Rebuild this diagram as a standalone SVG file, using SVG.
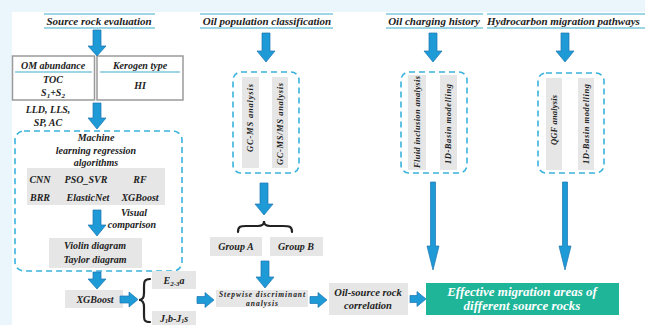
<svg xmlns="http://www.w3.org/2000/svg" width="645" height="325" viewBox="0 0 645 325">
<style>
text{font-family:"Liberation Serif","Times New Roman",serif;font-weight:bold;font-style:italic;fill:#222;text-anchor:middle}
.t{font-size:11px}
.m{font-size:10px}
.s{font-size:7.5px}
.v{font-size:8.5px}
.w{fill:#fff;font-size:13px}
.ul{stroke:#9fd6e6;stroke-width:2}
.arr{fill:#1e9bd7;stroke:#1a74b0;stroke-width:0.7}
.g{fill:#e6e6e6}
.dash{fill:none;stroke:#3ab3dc;stroke-width:1.6;stroke-dasharray:6 4}
.br{fill:none;stroke:#222;stroke-width:2.2;stroke-linecap:round}
</style>
<rect width="645" height="325" fill="#fff"/>
<rect width="645" height="12" fill="#eaf5fc"/>
<rect width="12" height="325" fill="#eaf5fc"/>

<g id="title-source">
<line class="ul" x1="44" y1="14" x2="155" y2="14"/>
<line class="ul" x1="44" y1="28" x2="155" y2="28"/>
<text class="t" x="99" y="25">Source rock evaluation</text>
</g>
<g id="title-oil-pop">
<line class="ul" x1="200" y1="14" x2="333" y2="14"/>
<line class="ul" x1="200" y1="28" x2="333" y2="28"/>
<text class="t" x="267" y="25">Oil population classification</text>
</g>
<g id="title-charging">
<line class="ul" x1="386" y1="14" x2="483" y2="14"/>
<line class="ul" x1="386" y1="28" x2="483" y2="28"/>
<text class="t" x="434" y="25">Oil charging history</text>
</g>
<g id="title-migration">
<line class="ul" x1="487" y1="14" x2="645" y2="14"/>
<line class="ul" x1="487" y1="28" x2="645" y2="28"/>
<text class="t" x="487" y="25" style="text-anchor:start">Hydrocarbon migration pathways</text>
</g>

<g id="om-abundance">
<rect x="12.5" y="56" width="82" height="44" fill="#fff" stroke="#9a9a9a" stroke-width="1.5"/>
<line class="ul" x1="15" y1="72" x2="92" y2="72" stroke-width="1.5"/>
<text class="m" x="53" y="69">OM abundance</text>
<text class="m" x="53" y="83">TOC</text>
<text class="m" x="53" y="96">S<tspan dy="2" font-size="7">1</tspan><tspan dy="-2">+S</tspan><tspan dy="2" font-size="7">2</tspan></text>
</g>
<g id="kerogen-type">
<rect x="97" y="56" width="86" height="44" fill="#fff" stroke="#9a9a9a" stroke-width="1.5"/>
<line class="ul" x1="100" y1="72" x2="180" y2="72" stroke-width="1.5"/>
<text class="m" x="140" y="69">Kerogen type</text>
<text class="m" x="140" y="89">HI</text>
</g>

<g id="logs">
<text class="m" x="48" y="113">LLD, LLS,</text>
<text class="m" x="48" y="126">SP, AC</text>
</g>

<g id="ml-box">
<rect class="dash" x="15" y="131" width="167" height="140" rx="9"/>
<text class="m" x="96" y="141">Machine</text>
<text class="m" x="96" y="154">learning regression</text>
<text class="m" x="96" y="166">algorithms</text>
</g>
<g id="algorithms">
<rect class="g" x="27" y="168" width="138" height="37"/>
<text class="m" x="40" y="183">CNN</text>
<text class="m" x="86" y="183">PSO_SVR</text>
<text class="m" x="140" y="183">RF</text>
<text class="m" x="40" y="201">BRR</text>
<text class="m" x="88" y="201">ElasticNet</text>
<text class="m" x="140" y="201">XGBoost</text>
</g>
<g id="visual">
<text class="m" x="134" y="216">Visual</text>
<text class="m" x="132" y="228">comparison</text>
</g>
<g id="violin-taylor">
<rect class="g" x="49" y="238" width="93" height="30"/>
<text class="m" x="95" y="249">Violin diagram</text>
<text class="m" x="95" y="263">Taylor diagram</text>
</g>
<g id="xgboost">
<rect class="g" x="65" y="290" width="58" height="18"/>
<text class="m" x="95" y="303">XGBoost</text>
</g>
<g id="e23a">
<rect class="g" x="152" y="271" width="44" height="18"/>
<text class="m" x="174" y="284">E<tspan dy="2" font-size="7">2-3</tspan><tspan dy="-2">a</tspan></text>
</g>
<g id="j1b-j1s">
<rect class="g" x="152" y="311" width="44" height="16"/>
<text class="m" x="174" y="322">J<tspan dy="1" font-size="6">1</tspan><tspan dy="-1">b-J</tspan><tspan dy="1" font-size="6">1</tspan><tspan dy="-1">s</tspan></text>
</g>

<g id="gcms-box">
<rect class="dash" x="233" y="72" width="66" height="101" rx="8"/>
<rect class="g" x="242" y="77" width="17" height="91"/>
<rect class="g" x="272" y="77" width="16" height="91"/>
<text class="v" transform="translate(253,118) rotate(-90)" textLength="68">GC-MS analysis</text>
<text class="v" transform="translate(283,124) rotate(-90)" textLength="82">GC-MS/MS analysis</text>
</g>
<g id="group-a">
<rect class="g" x="210" y="237" width="52" height="19"/>
<text class="m" x="236" y="250">Group A</text>
</g>
<g id="group-b">
<rect class="g" x="270" y="237" width="53" height="19"/>
<text class="m" x="296" y="250">Group B</text>
</g>
<g id="stepwise">
<rect class="g" x="216" y="290" width="92" height="17"/>
<text class="s" x="262" y="297" textLength="86">Stepwise discriminant</text>
<text class="s" x="262" y="305.5" textLength="32">analysis</text>
</g>
<g id="oil-source">
<rect class="g" x="329" y="283" width="79" height="32"/>
<text class="m" x="368" y="296" style="font-size:10.5px">Oil-source rock</text>
<text class="m" x="368" y="309" style="font-size:10.5px">correlation</text>
</g>

<g id="charging-box">
<rect class="dash" x="401" y="72" width="66" height="101" rx="8"/>
<rect class="g" x="408" y="75" width="18" height="95"/>
<rect class="g" x="440" y="75" width="17" height="95"/>
<text class="v" transform="translate(420,122) rotate(-90)" textLength="92">Fluid inclusion analysis</text>
<text class="v" transform="translate(451,124) rotate(-90)" textLength="80">1D-Basin modelling</text>
</g>
<g id="migration-box">
<rect class="dash" x="538" y="73" width="66" height="100" rx="8"/>
<rect class="g" x="546" y="78" width="16" height="92"/>
<rect class="g" x="578" y="78" width="16" height="92"/>
<text class="v" transform="translate(557,120) rotate(-90)" textLength="50">QGF analysis</text>
<text class="v" transform="translate(589,124) rotate(-90)" textLength="80">1D-Basin modelling</text>
</g>

<g id="effective">
<rect x="426" y="283" width="193" height="32" fill="#1fb598"/>
<text class="w" x="522" y="296">Effective migration areas of</text>
<text class="w" x="522" y="310">different source rocks</text>
</g>

<g id="connectors">
<path class="arr" d="M93 30H101V46H106L97 56L88 46H93Z"/>
<path class="arr" d="M93 103H101V118H106L97 129L88 118H93Z"/>
<path class="arr" d="M93 210H101V225H106L97 236L88 225H93Z"/>
<path class="arr" d="M93 272H101V279H106L97 289L88 279H93Z"/>
<path class="arr" d="M262 33H270V51H275L266 62L257 51H262Z"/>
<path class="arr" d="M260 183H268V204H273L264 215L255 204H260Z"/>
<path class="arr" d="M261 261H269V277H274L265 288L256 277H261Z"/>
<path class="arr" d="M429 33H437V51H442L433 62L424 51H429Z"/>
<path class="arr" d="M561 33H569V51H574L565 62L556 51H561Z"/>
<path class="arr" d="M430.5 182H435.5V246H439L433 270L427 246H430.5Z"/>
<path class="arr" d="M562.5 182H567.5V246H571L565 270L559 246H562.5Z"/>
<path class="arr" d="M120 296H129V292L138 299.5L129 307V303H120Z"/>
<path class="arr" d="M197 296.5H205V292.5L214 300L205 307.5V303.5H197Z"/>
<path class="arr" d="M310 296.5H318V292.5L327 300L318 307.5V303.5H310Z"/>
<path class="arr" d="M410 295.5H417V291.5L426 299L417 306.5V302.5H410Z"/>
<path class="br" d="M150 279C144 279 144 282 144 288V293C144 297 143 300 139 300C143 300 144 303 144 307V314C144 320 144 322 150 322"/>
<path class="br" d="M238 232C238 226 241 226 246 226H258C262 226 264 225 264 221C264 225 266 226 270 226H283C289 226 292 226 292 232"/>
</g>
</svg>
